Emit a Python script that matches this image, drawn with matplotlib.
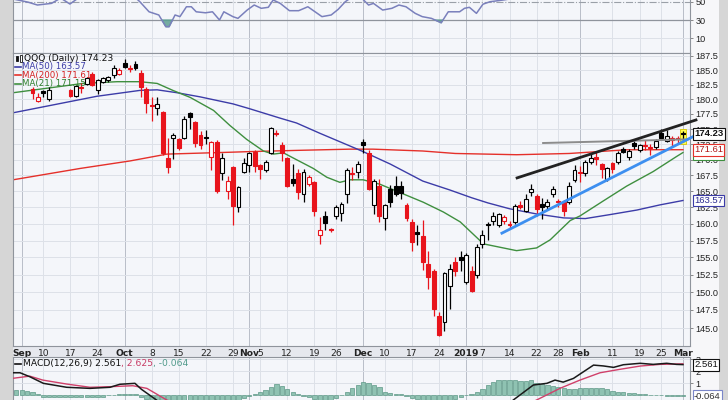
import numpy as np
import matplotlib.pyplot as plt
from matplotlib.patches import Rectangle
from matplotlib.ticker import FixedLocator, FixedFormatter, NullLocator, NullFormatter
import matplotlib.transforms as mtrans

nan = np.nan

# ---------------- data: trading day index, 0 = 4 Sep 2018 ----------------
# candles hidden behind the legend in the reference are left as nan
opens = [nan, nan, 181.7, 179.7, 181.4, 180.0, nan, nan, nan, 181.6,
         180.6, 182.1, 182.6, 184.3, 181.6, 183.0, 183.3, 184.2, 184.4, 186.3,
         185.4, 186.0, 184.5, 181.8, 179.0, 178.5, 177.8, 170.2, 173.6, 173.3,
         173.6, 177.6, 176.1, 174.0, 173.7, 170.5, 172.9, 167.8, 165.0, 168.8,
         162.6, 168.1, 169.1, 171.2, 169.1, 168.4, 171.1, 174.4, 172.4, 170.2,
         166.9, 167.8, 164.6, 166.1, 166.4, 158.3, 161.2, 159.2, 161.2, 161.6,
         164.6, 167.8, 168.1, 172.9, 171.1, 162.8, 165.8, 160.9, 165.4, 165.8,
         165.8, 162.9, 160.3, 158.7, 158.2, 154.0, 153.0, 146.6, 145.8, 150.9,
         154.4, 155.0, 151.4, 153.0, 152.4, 157.0, 160.0, 160.4, 159.9, 160.5,
         160.0, 160.3, 162.9, 162.0, 164.9, 164.3, 163.1, 162.7, 164.6, 163.5,
         163.3, 163.3, 166.8, 168.0, 167.8, 169.6, 170.5, 169.3, 166.9, 169.4,
         169.7, 171.8, 170.4, 172.7, 171.5, 172.4, 172.0, 172.0, 174.3, 173.1,
         173.2, 173.6, 174.4]
highs = [nan, nan, 182.1, 181.1, 181.6, 182.0, nan, nan, nan, 181.8,
         182.5, 182.7, 183.9, 184.6, 183.5, 183.9, 184.0, 185.9, 185.4, 186.9,
         185.9, 186.6, 185.0, 182.0, 180.3, 180.4, 178.0, 173.5, 174.3, 173.5,
         177.1, 177.9, 176.4, 174.6, 174.9, 173.0, 173.2, 171.1, 167.4, 169.0,
         165.8, 170.2, 171.3, 171.5, 169.3, 169.9, 175.3, 174.9, 172.9, 170.5,
         169.3, 168.5, 168.5, 167.5, 166.6, 161.0, 162.0, 159.4, 162.8, 163.3,
         168.6, 168.9, 169.8, 173.4, 171.5, 166.9, 166.9, 163.0, 166.0, 167.4,
         166.6, 163.2, 160.8, 159.8, 160.6, 155.9, 153.3, 147.2, 152.9, 154.0,
         155.1, 156.0, 155.6, 153.7, 157.0, 159.0, 160.3, 161.8, 161.7, 161.4,
         160.5, 163.0, 163.5, 164.5, 166.1, 164.6, 164.0, 163.8, 165.8, 163.8,
         163.6, 166.5, 169.2, 169.0, 170.0, 171.0, 171.2, 169.5, 168.9, 169.6,
         171.4, 172.1, 171.7, 173.0, 172.6, 173.2, 172.5, 173.4, 175.0, 174.8,
         173.9, 173.9, 174.6]
lows = [nan, nan, 180.0, 179.5, 180.3, 179.7, nan, nan, nan, 180.3,
        180.4, 181.0, 182.4, 182.3, 180.8, 182.8, 183.0, 183.6, 184.2, 185.3,
        184.7, 185.0, 180.4, 177.6, 176.4, 177.3, 170.8, 167.8, 170.1, 171.5,
        173.3, 175.0, 172.1, 171.8, 172.6, 168.4, 164.8, 166.8, 163.8, 159.9,
        161.8, 167.8, 168.0, 168.0, 166.9, 168.0, 170.9, 173.8, 169.8, 165.6,
        165.8, 163.8, 163.3, 165.8, 161.2, 157.0, 159.0, 158.8, 160.8, 160.5,
        163.2, 166.7, 167.1, 171.0, 165.2, 161.5, 160.3, 159.1, 162.5, 164.3,
        163.8, 160.4, 155.9, 156.9, 153.2, 150.4, 146.6, 143.9, 144.6, 147.6,
        152.3, 153.0, 151.2, 150.0, 152.0, 156.4, 157.6, 159.8, 159.5, 160.0,
        159.2, 160.0, 162.2, 161.8, 164.3, 161.2, 160.8, 162.3, 164.1, 162.5,
        161.2, 163.0, 166.4, 166.5, 167.4, 169.3, 169.2, 167.1, 166.6, 167.9,
        169.3, 171.0, 169.9, 171.8, 171.2, 171.5, 170.7, 171.8, 173.4, 172.8,
        172.0, 172.5, 172.9]
closes = [nan, nan, 181.0, 180.3, 181.0, 181.6, nan, nan, nan, 180.5,
          182.3, 182.0, 183.7, 182.5, 183.3, 183.6, 183.8, 185.3, 185.1, 185.5,
          185.3, 185.4, 182.0, 179.4, 178.9, 179.1, 171.0, 168.8, 174.0, 171.9,
          176.7, 177.0, 172.7, 172.3, 173.5, 172.9, 165.0, 170.2, 166.6, 162.7,
          165.6, 169.5, 171.0, 169.0, 168.5, 169.6, 175.2, 174.2, 171.1, 165.9,
          166.3, 164.9, 168.0, 167.2, 161.9, 159.0, 160.2, 159.0, 162.6, 163.1,
          168.4, 167.7, 169.3, 172.3, 165.4, 166.6, 161.2, 162.8, 163.3, 164.6,
          164.7, 160.9, 157.3, 158.4, 154.4, 152.2, 147.6, 144.1, 152.8, 153.3,
          153.1, 154.7, 155.3, 150.2, 156.5, 158.3, 159.8, 161.2, 161.5, 161.0,
          159.8, 162.7, 162.5, 163.8, 165.4, 162.3, 162.5, 163.4, 165.4, 163.3,
          162.0, 165.9, 168.3, 167.8, 169.7, 170.3, 170.1, 168.5, 168.7, 168.5,
          171.1, 171.3, 171.4, 172.2, 172.4, 172.2, 171.9, 173.1, 173.6, 173.8,
          173.6, 173.4, 174.23]

# moving averages (day index, value)
ma50_x = [-1.6, 13.9, 21.8, 25, 28.7, 32.9, 39, 42, 47.7, 50.7, 55, 60.6, 63, 68,
          74, 79, 83, 86, 90, 95, 100, 104, 108.5, 113.5, 117.8, 122]
ma50_y = [177.7, 180.5, 181.5, 181.6, 181.1, 180.4, 179.2, 178.4, 176.8, 176.0,
          174.3, 172.2, 171.3, 169.3, 166.6, 165.2, 164.0, 163.2, 162.3, 161.5,
          160.9, 160.8, 161.4, 162.1, 162.9, 163.57]
ma200_x = [-1.6, 10.8, 20, 26.8, 38.4, 42, 50.7, 60.6, 64.8, 74, 80, 91.3, 101,
           111.6, 122]
ma200_y = [166.8, 168.6, 169.8, 170.9, 171.2, 171.3, 171.5, 171.7, 171.7, 171.4,
           171.0, 170.8, 171.0, 171.6, 171.61]
ma21_x = [-1.6, 11.3, 17.6, 21.8, 25, 27.9, 31.1, 35.4, 38.4, 41.5, 44.6, 46.4,
          48.3, 50.7, 53.8, 56.3, 58.7, 60.6, 63, 66.1, 69.8, 74.1, 77.8, 80.9,
          85.2, 91.3, 95, 97.5, 101.2, 103, 107.3, 111.6, 116.5, 120.8, 122]
ma21_y = [181.1, 182.7, 183.0, 183.0, 182.7, 181.5, 180.3, 178.1, 175.6, 173.3,
          171.4, 170.9, 171.1, 170.0, 168.6, 167.2, 166.4, 166.8, 166.8, 166.1,
          164.8, 163.3, 161.8, 160.3, 157.0, 156.0, 156.4, 157.6, 160.5, 161.2,
          163.5, 165.8, 168.1, 170.5, 171.15]

# trend lines drawn on the chart (day index, price)
trend_black = ([91.4, 124.4], [167.1, 176.5])
trend_blue = ([88.6, 125.1], [158.6, 174.3])
trend_gray = ([96.2, 122.9], [172.7, 173.3])

# RSI(14)
rsi_x = [-1.6, 1.2, 2.9, 5.5, 7.2, 8.9, 10.2, 12.6, 16.3, 20.0, 21.8, 23.5, 25.3,
         26.6, 27.2, 28.3, 29.2, 30.4, 31.3, 32.2, 33.9, 35.2, 36.5, 37.3, 39.0,
         39.9, 41.6, 42.9, 44.2, 45.5, 46.4, 47.7, 49.4, 51.1, 52.8, 55.4, 57.1,
         58.4, 59.7, 60.9, 62.4, 64.0, 64.9, 66.6, 68.3, 69.6, 70.9, 72.6, 73.9,
         75.6, 77.4, 78.7, 80.8, 81.7, 82.6, 83.9, 85.1, 86.4, 89.0, 95, 105, 115,
         123.3]
rsi_y = [53, 49.5, 46.4, 48.2, 54, 47.5, 53, 58, 62, 60, 50, 39, 35.5,
         22.7, 22.7, 35.5, 33.7, 44.5, 44.5, 39, 37.9, 39, 30, 39, 33.6,
         31.8, 40.9, 46.4, 42.8, 43.9, 51.9, 48.2, 40.2, 40.2, 44.5, 33.7, 35.5,
         41.7, 50, 55, 56, 46.4, 48.2, 40.9, 42.8, 46.4, 44.5, 37.3, 33.7,
         31.8, 27, 39, 39, 42.8, 43.9, 37.3, 47.3, 50, 52, 58, 62, 60,
         58]

# MACD(12,26,9) lines
macd_x = [-1.6, -0.3, 1.5, 4.0, 8.3, 12.6, 16.3, 18.1, 20.9, 22.1, 24.9, 27.4,
          40, 60, 80, 88, 90.7, 94.4, 96.9, 98.4, 99.9, 101.8, 105.5, 107.3,
          109.2, 111.0, 114.1, 116.5, 119.0, 120.8, 122]
macd_y = [1.88, 1.88, 1.55, 1.0, 0.67, 0.58, 0.67, 0.92, 1.0, 0.5, -0.4, -1.5,
          -3.0, -2.5, -3.5, -1.5, -0.39, 0.86, 1.0, 1.27, 1.1, 1.41, 2.52, 2.45,
          2.33, 2.55, 2.67, 2.58, 2.67, 2.58, 2.561]
signal_x = [-1.6, 1.5, 3.9, 8.3, 12.6, 16.3, 20.5, 23.1, 26.8, 40, 60, 80, 90,
            95.0, 99.3, 103.0, 106.7, 110.4, 114.1, 117.8, 122]
signal_y = [1.42, 1.6, 1.27, 0.94, 0.67, 0.72, 0.8, 0.58, -0.4, -2.2, -2.6, -2.8,
            -1.5, -0.39, 0.58, 1.27, 1.88, 2.17, 2.44, 2.58, 2.625]
hist_x = np.arange(-1, 123)
hist_y = [0.45, 0.45, 0.4, 0.3, 0.15, -0.1, -0.15, -0.15, -0.15, -0.15,
          -0.15, -0.15, -0.15, -0.15, -0.15, -0.15, -0.1, 0.0, 0.05, 0.1,
          0.1, 0.12, 0.1, -0.1, -0.3, -0.5, -0.6, -0.9, -1.1, -1.0,
          -1.0, -0.8, -0.6, -0.6, -0.55, -0.45, -0.4, -0.6, -0.5, -0.5,
          -0.6, -0.45, -0.25, -0.05, 0.08, 0.25, 0.45, 0.7, 0.92, 0.8,
          0.55, 0.3, 0.08, -0.05, -0.1, -0.3, -0.45, -0.4, -0.35, -0.2,
          0.05, 0.3, 0.6, 0.85, 1.1, 1.0, 0.85, 0.7, 0.3, 0.2,
          0.1, 0.1, -0.05, -0.2, -0.3, -0.45, -0.55, -0.75, -0.9, -0.6,
          -0.4, -0.3, -0.1, 0.05, 0.1, 0.3, 0.55, 0.85, 1.1, 1.25,
          1.3, 1.3, 1.25, 1.2, 1.2, 1.25, 1.0, 0.95, 0.85, 0.8,
          0.7, 0.6, 0.5, 0.5, 0.6, 0.6, 0.65, 0.65, 0.6, 0.5,
          0.35, 0.3, 0.3, 0.2, 0.2, 0.15, 0.1, 0.05, 0.05, 0.0,
          -0.03, -0.05, -0.06, -0.064]

price_ticks = [145.0, 147.5, 150.0, 152.5, 155.0, 157.5, 160.0, 162.5, 165.0,
               167.5, 170.0, 172.5, 175.0, 177.5, 180.0, 182.5, 185.0, 187.5]
date_ticks = [0, 4, 9, 14, 19, 24, 29, 34, 39, 42, 44, 49, 54, 58, 63, 67, 72,
              77, 82, 85, 90, 95, 99, 103, 109, 114, 118, 122]
date_labels = ['Sep', '10', '17', '24', 'Oct', '8', '15', '22', '29', 'Nov', '5',
               '12', '19', '26', 'Dec', '10', '17', '24', '2019', '7', '14', '22',
               '28', 'Feb', '11', '19', '25', 'Mar']
month_labels = {'Sep', 'Oct', 'Nov', 'Dec', '2019', 'Feb', 'Mar'}

# ---------------- figure ----------------
W, H = 728, 400
BG = '#f4f6fa'
GRID = '#dde1e8'
MGRID = '#b9bec8'
RED = '#e8141c'
AXFONT = 'Liberation Sans'
plt.rcParams['font.family'] = ['DejaVu Sans']

fig = plt.figure(figsize=(W / 100, H / 100), dpi=100)
fig.patch.set_facecolor('#d6d6d6')


def px_box(x0, y0, x1, y1):
    return [x0 / W, 1 - y1 / H, (x1 - x0) / W, (y1 - y0) / H]


# light strip behind the right hand labels and the date row
fig.patches.append(Rectangle((13 / W, 0), 706 / W, 1, transform=fig.transFigure,
                             facecolor='#f7f7f9', edgecolor='none', zorder=-10))
fig.patches.append(Rectangle((13 / W, 1 - 356.7 / H), 677 / W, 11 / H,
                             transform=fig.transFigure, facecolor='#e6e8ee',
                             edgecolor='none', zorder=-9))

ax_rsi = fig.add_axes(px_box(13, -60, 690, 52.7))
ax = fig.add_axes(px_box(13, 53, 690, 345.7))
ax_macd = fig.add_axes(px_box(13, 356.7, 690, 400))
X0, X1 = -1.6, 123.3

for a in (ax_rsi, ax, ax_macd):
    a.set_facecolor(BG)
    a.set_xlim(X0, X1)
    for s in a.spines.values():
        s.set_color('#8f949c')
        s.set_linewidth(0.8)
    a.yaxis.tick_right()
    a.tick_params(axis='y', length=2.5, width=0.6, color='#777', pad=1.5,
                  labelsize=6.6, labelcolor='#222')
    a.tick_params(axis='x', length=0)
    for t, lab in zip(date_ticks, date_labels):
        a.axvline(t, color=MGRID if lab in month_labels else GRID, lw=0.7, zorder=0)

# ---------------- price panel ----------------
ax.set_yscale('log')
ax.set_ylim(142.6, 188.03)
ax.yaxis.set_major_locator(FixedLocator(price_ticks))
ax.yaxis.set_major_formatter(FixedFormatter(['%.1f' % p for p in price_ticks]))
ax.yaxis.set_minor_locator(NullLocator())
ax.yaxis.set_minor_formatter(NullFormatter())
for p in price_ticks:
    ax.axhline(p, color=GRID, lw=0.7, zorder=0)

ax.set_xticks(date_ticks)
ax.set_xticklabels(date_labels)
ax.tick_params(axis='x', pad=2.5, labelsize=6.6, labelcolor='#222')
for lab in ax.get_xticklabels():
    if lab.get_text() in month_labels:
        lab.set_fontweight('bold')

ax.plot(ma200_x, ma200_y, color='#e5302a', lw=1.0, zorder=2)
ax.plot(ma50_x, ma50_y, color='#3c3ca8', lw=1.0, zorder=2)
ax.plot(ma21_x, ma21_y, color='#3f8f3f', lw=1.0, zorder=2)

# highlight behind the last bar
last = len(closes) - 1
ax.add_patch(Rectangle((last - 0.55, lows[last] - 0.35), 1.1,
                       highs[last] - lows[last] + 0.8, facecolor='#ffff4d',
                       edgecolor='#d6c400', lw=0.6, zorder=2))

bw = 0.72
for i in range(len(closes)):
    o, h, l, c = opens[i], highs[i], lows[i], closes[i]
    if np.isnan(c):
        continue
    prev = closes[i - 1] if i > 0 else nan
    up = (c >= prev) if not np.isnan(prev) else (c >= o)
    col = 'black' if up else RED
    hollow = c > o
    ax.vlines(i, l, h, color=col, lw=0.9, zorder=3)
    lo, hi = min(o, c), max(o, c)
    if hi - lo < 0.12:
        lo, hi = (lo + hi) / 2 - 0.06, (lo + hi) / 2 + 0.06
    ax.add_patch(Rectangle((i - bw / 2, lo), bw, hi - lo,
                           facecolor='white' if hollow else col,
                           edgecolor=col, lw=0.8, zorder=4))

ax.plot(*trend_gray, color='#8c8c8c', lw=1.4, zorder=5, clip_on=False)
ax.plot(*trend_black, color='#222222', lw=2.0, zorder=5, clip_on=False)
ax.plot(*trend_blue, color='#3d8ff0', lw=2.0, zorder=5, clip_on=False)

# legend block in the top left corner
leg = [('QQQ (Daily) 174.23', '#111111', None, 6.6),
       ('MA(50) 163.57', '#3c3ca8', '#3c3ca8', 6.2),
       ('MA(200) 171.61', '#d42020', '#e5302a', 6.2),
       ('MA(21) 171.15', '#2f7f2f', '#3f8f3f', 6.2)]
for k, (txt, tc, lc, fs) in enumerate(leg):
    yy = 1 - (58.3 + 8.4 * k) / H
    if lc:
        ax.plot([15 / W, 21 / W], [yy, yy], color=lc, lw=1.2,
                transform=fig.transFigure, zorder=7, clip_on=False)
        x_txt = 22
    else:
        # small candlestick icon in front of the symbol
        for dx, hgt, fc in ((16, 5, '#111'), (19.5, 7, 'white')):
            ax.add_patch(Rectangle((dx / W, yy - hgt / 2 / H), 2.2 / W, hgt / H,
                                   transform=fig.transFigure, facecolor=fc,
                                   edgecolor='#111', lw=0.6, zorder=7))
        x_txt = 24.5
    ax.text(x_txt / W, yy, txt, transform=fig.transFigure, fontsize=fs, color=tc,
            va='center', ha='left', zorder=7)

# value tags on the price axis
yblend = mtrans.blended_transform_factory(ax.transAxes, ax.transData)
tags = [(171.15, '171.15', '#3f8f3f', '#2f7f2f', 'normal'),
        (171.61, '171.61', '#e5302a', '#b01818', 'normal'),
        (163.57, '163.57', '#3c3ca8', '#2a2a90', 'normal'),
        (174.23, '174.23', '#111111', '#111111', 'bold')]
for val, txt, ec, tc, fw in tags:
    off = -0.35 if txt == '171.15' else 0
    ax.text(1.006, val * np.exp(off / 1058 * 3), txt, transform=yblend,
            family=AXFONT, fontsize=6.8, color=tc, fontweight=fw, va='center',
            ha='left', zorder=8, clip_on=False,
            bbox=dict(boxstyle='square,pad=0.15', facecolor='white', edgecolor=ec, lw=0.8))

# ---------------- RSI panel ----------------
ax_rsi.set_ylim(-5.74, 117.5)
ax_rsi.set_xticks([])
ax_rsi.set_yticks([10, 30, 50])
ax_rsi.axhline(10, color=GRID, lw=0.7, zorder=0)
ax_rsi.axhline(30, color='#8f949c', lw=0.9, zorder=1)
ax_rsi.axhline(50, color='#9aa0a8', lw=0.8, ls='-.', zorder=1)
rx = np.array(rsi_x)
ry = np.array(rsi_y)
ax_rsi.fill_between(rx, ry, 30, where=ry < 30, interpolate=True,
                    color='#5f9f93', alpha=0.85, zorder=2)
ax_rsi.plot(rx, ry, color='#7a80bc', lw=1.1, zorder=3)

# ---------------- MACD panel ----------------
ax_macd.set_ylim(-0.39, 3.22)
ax_macd.set_xticks([])
ax_macd.set_yticks([1, 2, 3])
ax_macd.spines['bottom'].set_visible(False)
for v in (1, 2, 3):
    ax_macd.axhline(v, color=GRID, lw=0.7, zorder=0)
ax_macd.bar(hist_x, hist_y, width=0.8, color='#8fc2b2', edgecolor='#5d9887',
            lw=0.5, zorder=2)
ax_macd.plot(signal_x, signal_y, color='#d0406a', lw=1.0, zorder=3)
ax_macd.plot(macd_x, macd_y, color='#1a1a1a', lw=1.1, zorder=4)

for a in (ax_rsi, ax, ax_macd):
    for lab in a.get_yticklabels():
        lab.set_family(AXFONT)

yb2 = mtrans.blended_transform_factory(ax_macd.transAxes, ax_macd.transData)
ax_macd.text(1.006, 2.561, '2.561', transform=yb2, family=AXFONT, fontsize=6.8,
             color='#111', va='center', ha='left', clip_on=False, zorder=8,
             bbox=dict(boxstyle='square,pad=0.15', facecolor='white', edgecolor='#111', lw=0.8))
ax_macd.text(1.006, -0.064, '-0.064', transform=yb2, family=AXFONT, fontsize=6.8,
             color='#333', va='center', ha='left', clip_on=False, zorder=8,
             bbox=dict(boxstyle='square,pad=0.15', facecolor='white', edgecolor='#7a86c8', lw=0.8))

ym = 1 - 363.5 / H
ax_macd.plot([15 / W, 21 / W], [ym, ym], color='#111', lw=1.2,
             transform=fig.transFigure, clip_on=False, zorder=7)
t1 = ax_macd.text(23 / W, ym, 'MACD(12,26,9) 2.561', transform=fig.transFigure,
                  fontsize=6.6, color='#111', va='center', ha='left', zorder=7)
t2 = ax_macd.annotate(', 2.625', xy=(1, 0), xycoords=t1, va='bottom', ha='left',
                      fontsize=6.6, color='#c83a64', zorder=7)
ax_macd.annotate(', -0.064', xy=(1, 0), xycoords=t2, va='bottom', ha='left',
                 fontsize=6.6, color='#4f9a8a', zorder=7)

fig.savefig('out.png', dpi=100, facecolor=fig.get_facecolor())
